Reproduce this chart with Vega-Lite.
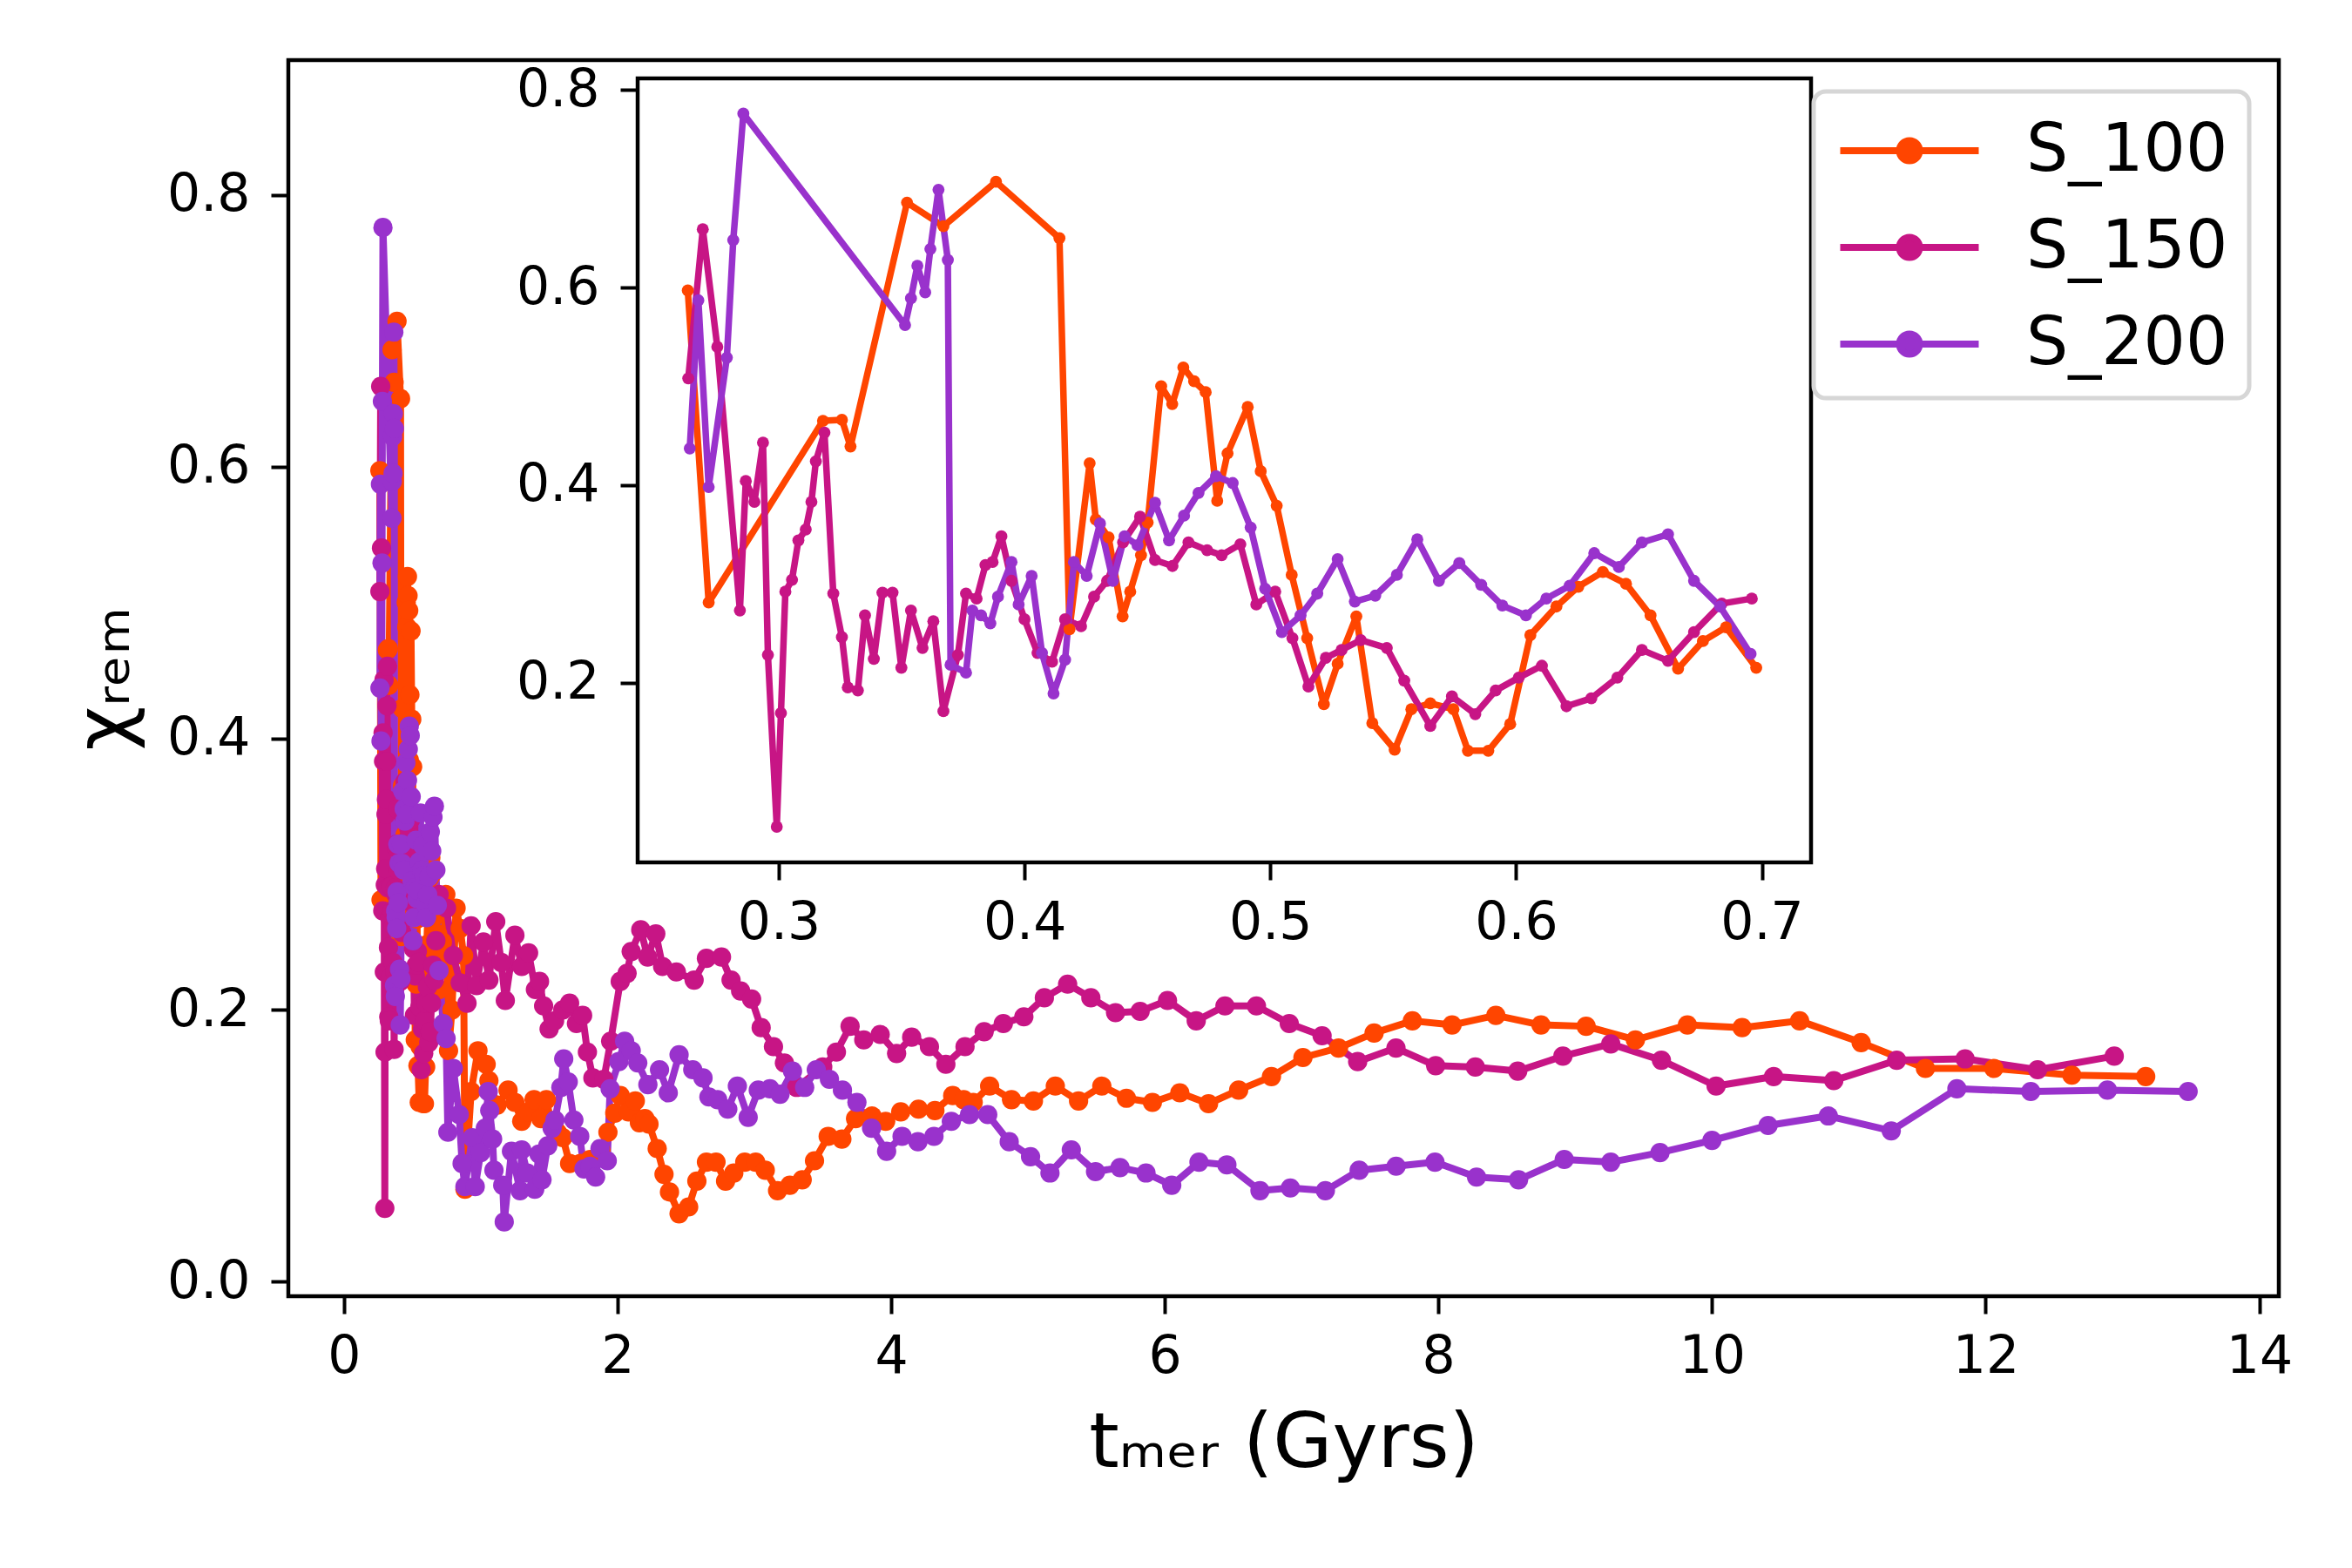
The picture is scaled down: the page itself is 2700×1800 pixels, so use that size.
{
"$schema":"https://vega.github.io/schema/vega-lite/v6.json",
"autosize":{"type":"none"},
"width":2285,"height":1419,
"padding":{"left":331,"top":69,"right":84,"bottom":312},
"background":"white",
"config":{
 "view":{"stroke":"black","strokeWidth":4.5},
 "font":"DejaVu Sans",
 "axis":{"grid":false,"domain":false,"tickColor":"black","tickWidth":4,"tickSize":20,"labelColor":"black","labelFont":"DejaVu Sans","labelFontSize":60,"titleFont":"DejaVu Sans","titleFontWeight":"normal","titleColor":"black","titleFontSize":88}
},
"datasets":{"d":[
{"series":"S_100","t":0.263,"chi":0.597},{"series":"S_100","t":0.2715,"chi":0.281},{"series":"S_100","t":0.318,"chi":0.465},{"series":"S_100","t":0.3257,"chi":0.466},{"series":"S_100","t":0.3292,"chi":0.439},{"series":"S_100","t":0.3522,"chi":0.686},{"series":"S_100","t":0.367,"chi":0.662},{"series":"S_100","t":0.3884,"chi":0.707},{"series":"S_100","t":0.4142,"chi":0.65},{"series":"S_100","t":0.4183,"chi":0.254},{"series":"S_100","t":0.4265,"chi":0.422},{"series":"S_100","t":0.429,"chi":0.365},{"series":"S_100","t":0.4342,"chi":0.347},{"series":"S_100","t":0.4399,"chi":0.267},{"series":"S_100","t":0.443,"chi":0.292},{"series":"S_100","t":0.4474,"chi":0.329},{"series":"S_100","t":0.4501,"chi":0.362},{"series":"S_100","t":0.4556,"chi":0.5},{"series":"S_100","t":0.4601,"chi":0.482},{"series":"S_100","t":0.4646,"chi":0.519},{"series":"S_100","t":0.469,"chi":0.505},{"series":"S_100","t":0.4737,"chi":0.494},{"series":"S_100","t":0.4784,"chi":0.384},{"series":"S_100","t":0.4826,"chi":0.432},{"series":"S_100","t":0.4908,"chi":0.479},{"series":"S_100","t":0.4961,"chi":0.414},{"series":"S_100","t":0.5026,"chi":0.379},{"series":"S_100","t":0.5087,"chi":0.309},{"series":"S_100","t":0.515,"chi":0.245},{"series":"S_100","t":0.5218,"chi":0.178},{"series":"S_100","t":0.5274,"chi":0.219},{"series":"S_100","t":0.535,"chi":0.267},{"series":"S_100","t":0.5415,"chi":0.159},{"series":"S_100","t":0.5506,"chi":0.132},{"series":"S_100","t":0.5574,"chi":0.173},{"series":"S_100","t":0.5651,"chi":0.179},{"series":"S_100","t":0.5745,"chi":0.173},{"series":"S_100","t":0.5804,"chi":0.131},{"series":"S_100","t":0.5887,"chi":0.131},{"series":"S_100","t":0.5976,"chi":0.158},{"series":"S_100","t":0.6058,"chi":0.248},{"series":"S_100","t":0.6164,"chi":0.277},{"series":"S_100","t":0.6253,"chi":0.297},{"series":"S_100","t":0.6353,"chi":0.312},{"series":"S_100","t":0.6447,"chi":0.3},{"series":"S_100","t":0.6547,"chi":0.268},{"series":"S_100","t":0.6659,"chi":0.214},{"series":"S_100","t":0.676,"chi":0.242},{"series":"S_100","t":0.6854,"chi":0.256},{"series":"S_100","t":0.6977,"chi":0.215},
{"series":"S_100","t":0.72,"chi":0.25},{"series":"S_100","t":0.745,"chi":0.285},{"series":"S_100","t":0.765,"chi":0.17},{"series":"S_100","t":0.79,"chi":0.2},{"series":"S_100","t":0.82,"chi":0.275},{"series":"S_100","t":0.85,"chi":0.26},{"series":"S_100","t":0.875,"chi":0.24},{"series":"S_100","t":0.885,"chi":0.068},{"series":"S_100","t":0.93,"chi":0.14},{"series":"S_100","t":0.98,"chi":0.17},{"series":"S_100","t":1.04,"chi":0.16},{"series":"S_100","t":1.06,"chi":0.148},{"series":"S_100","t":1.12,"chi":0.13},{"series":"S_100","t":1.2,"chi":0.141},{"series":"S_100","t":1.25,"chi":0.132},{"series":"S_100","t":1.3,"chi":0.118},{"series":"S_100","t":1.35,"chi":0.125},{"series":"S_100","t":1.39,"chi":0.134},{"series":"S_100","t":1.44,"chi":0.12},{"series":"S_100","t":1.48,"chi":0.134},{"series":"S_100","t":1.52,"chi":0.115},{"series":"S_100","t":1.56,"chi":0.11},{"series":"S_100","t":1.6,"chi":0.106},{"series":"S_100","t":1.65,"chi":0.087},{"series":"S_100","t":1.73,"chi":0.087},{"series":"S_100","t":1.8,"chi":0.09},{"series":"S_100","t":1.88,"chi":0.096},{"series":"S_100","t":1.93,"chi":0.11},{"series":"S_100","t":1.98,"chi":0.124},{"series":"S_100","t":2.02,"chi":0.137},{"series":"S_100","t":2.08,"chi":0.125},{"series":"S_100","t":2.13,"chi":0.133},{"series":"S_100","t":2.16,"chi":0.117},{"series":"S_100","t":2.2,"chi":0.12},{"series":"S_100","t":2.23,"chi":0.116},{"series":"S_100","t":2.29,"chi":0.098},{"series":"S_100","t":2.34,"chi":0.079},{"series":"S_100","t":2.38,"chi":0.066},{"series":"S_100","t":2.45,"chi":0.05},{"series":"S_100","t":2.52,"chi":0.055},{"series":"S_100","t":2.58,"chi":0.074},{"series":"S_100","t":2.65,"chi":0.088},{"series":"S_100","t":2.72,"chi":0.088},{"series":"S_100","t":2.79,"chi":0.074},{"series":"S_100","t":2.85,"chi":0.08},{"series":"S_100","t":2.93,"chi":0.088},{"series":"S_100","t":3.01,"chi":0.088},{"series":"S_100","t":3.08,"chi":0.082},{"series":"S_100","t":3.17,"chi":0.067},{"series":"S_100","t":3.26,"chi":0.071},{"series":"S_100","t":3.35,"chi":0.075},{"series":"S_100","t":3.44,"chi":0.089},{"series":"S_100","t":3.54,"chi":0.107},{"series":"S_100","t":3.64,"chi":0.105},{"series":"S_100","t":3.74,"chi":0.12},{"series":"S_100","t":3.86,"chi":0.122},{"series":"S_100","t":3.96,"chi":0.118},{"series":"S_100","t":4.07,"chi":0.125},{"series":"S_100","t":4.2,"chi":0.127},{"series":"S_100","t":4.32,"chi":0.126},{"series":"S_100","t":4.45,"chi":0.137},{"series":"S_100","t":4.53,"chi":0.134},{"series":"S_100","t":4.6,"chi":0.132},{"series":"S_100","t":4.72,"chi":0.144},{"series":"S_100","t":4.88,"chi":0.134},{"series":"S_100","t":5.04,"chi":0.133},{"series":"S_100","t":5.2,"chi":0.144},{"series":"S_100","t":5.37,"chi":0.133},{"series":"S_100","t":5.54,"chi":0.144},{"series":"S_100","t":5.72,"chi":0.135},{"series":"S_100","t":5.91,"chi":0.132},{"series":"S_100","t":6.11,"chi":0.139},{"series":"S_100","t":6.32,"chi":0.131},{"series":"S_100","t":6.54,"chi":0.141},{"series":"S_100","t":6.78,"chi":0.151},{"series":"S_100","t":7.01,"chi":0.165},{"series":"S_100","t":7.27,"chi":0.172},{"series":"S_100","t":7.53,"chi":0.183},{"series":"S_100","t":7.81,"chi":0.192},{"series":"S_100","t":8.1,"chi":0.189},{"series":"S_100","t":8.42,"chi":0.196},{"series":"S_100","t":8.75,"chi":0.189},{"series":"S_100","t":9.08,"chi":0.188},{"series":"S_100","t":9.44,"chi":0.178},{"series":"S_100","t":9.82,"chi":0.189},{"series":"S_100","t":10.22,"chi":0.187},{"series":"S_100","t":10.64,"chi":0.192},{"series":"S_100","t":11.09,"chi":0.176},{"series":"S_100","t":11.56,"chi":0.157},{"series":"S_100","t":12.06,"chi":0.157},{"series":"S_100","t":12.63,"chi":0.152},{"series":"S_100","t":13.17,"chi":0.151},
{"series":"S_150","t":0.2632,"chi":0.508},{"series":"S_150","t":0.2691,"chi":0.659},{"series":"S_150","t":0.275,"chi":0.54},{"series":"S_150","t":0.2842,"chi":0.273},{"series":"S_150","t":0.2866,"chi":0.404},{"series":"S_150","t":0.2901,"chi":0.383},{"series":"S_150","t":0.2936,"chi":0.443},{"series":"S_150","t":0.2956,"chi":0.228},{"series":"S_150","t":0.2992,"chi":0.054},{"series":"S_150","t":0.3009,"chi":0.169},{"series":"S_150","t":0.3027,"chi":0.292},{"series":"S_150","t":0.3054,"chi":0.304},{"series":"S_150","t":0.308,"chi":0.344},{"series":"S_150","t":0.311,"chi":0.355},{"series":"S_150","t":0.3133,"chi":0.383},{"series":"S_150","t":0.3151,"chi":0.424},{"series":"S_150","t":0.3186,"chi":0.453},{"series":"S_150","t":0.3222,"chi":0.29},{"series":"S_150","t":0.3257,"chi":0.246},{"series":"S_150","t":0.3281,"chi":0.195},{"series":"S_150","t":0.3322,"chi":0.192},{"series":"S_150","t":0.3351,"chi":0.268},{"series":"S_150","t":0.3387,"chi":0.224},{"series":"S_150","t":0.3422,"chi":0.291},{"series":"S_150","t":0.3463,"chi":0.291},{"series":"S_150","t":0.3499,"chi":0.215},{"series":"S_150","t":0.3538,"chi":0.273},{"series":"S_150","t":0.3585,"chi":0.235},{"series":"S_150","t":0.3629,"chi":0.262},{"series":"S_150","t":0.367,"chi":0.171},{"series":"S_150","t":0.3729,"chi":0.228},{"series":"S_150","t":0.3762,"chi":0.29},{"series":"S_150","t":0.3805,"chi":0.285},{"series":"S_150","t":0.3841,"chi":0.319},{"series":"S_150","t":0.387,"chi":0.322},{"series":"S_150","t":0.3906,"chi":0.348},{"series":"S_150","t":0.3947,"chi":0.303},{"series":"S_150","t":0.4,"chi":0.264},{"series":"S_150","t":0.4053,"chi":0.23},{"series":"S_150","t":0.4112,"chi":0.221},{"series":"S_150","t":0.4165,"chi":0.264},{"series":"S_150","t":0.423,"chi":0.257},{"series":"S_150","t":0.4283,"chi":0.287},{"series":"S_150","t":0.4336,"chi":0.303},{"series":"S_150","t":0.4401,"chi":0.342},{"series":"S_150","t":0.447,"chi":0.368},{"series":"S_150","t":0.4531,"chi":0.324},{"series":"S_150","t":0.4602,"chi":0.318},{"series":"S_150","t":0.4667,"chi":0.342},{"series":"S_150","t":0.4743,"chi":0.334},{"series":"S_150","t":0.4802,"chi":0.329},{"series":"S_150","t":0.4878,"chi":0.34},{"series":"S_150","t":0.4943,"chi":0.279},{"series":"S_150","t":0.502,"chi":0.292},{"series":"S_150","t":0.509,"chi":0.245},{"series":"S_150","t":0.5155,"chi":0.196},{"series":"S_150","t":0.5226,"chi":0.225},{"series":"S_150","t":0.529,"chi":0.233},{"series":"S_150","t":0.5368,"chi":0.243},{"series":"S_150","t":0.5474,"chi":0.235},{"series":"S_150","t":0.5545,"chi":0.202},{"series":"S_150","t":0.5651,"chi":0.156},{"series":"S_150","t":0.5739,"chi":0.186},{"series":"S_150","t":0.5834,"chi":0.168},{"series":"S_150","t":0.5917,"chi":0.192},{"series":"S_150","t":0.6011,"chi":0.205},{"series":"S_150","t":0.6105,"chi":0.217},{"series":"S_150","t":0.6205,"chi":0.176},{"series":"S_150","t":0.6306,"chi":0.184},{"series":"S_150","t":0.6412,"chi":0.205},{"series":"S_150","t":0.6512,"chi":0.233},{"series":"S_150","t":0.6618,"chi":0.222},{"series":"S_150","t":0.6724,"chi":0.251},{"series":"S_150","t":0.6837,"chi":0.28},{"series":"S_150","t":0.6959,"chi":0.285},
{"series":"S_150","t":0.75,"chi":0.275},{"series":"S_150","t":0.8,"chi":0.24},{"series":"S_150","t":0.85,"chi":0.22},{"series":"S_150","t":0.9,"chi":0.205},{"series":"S_150","t":0.93,"chi":0.262},{"series":"S_150","t":0.97,"chi":0.218},{"series":"S_150","t":1.02,"chi":0.25},{"series":"S_150","t":1.06,"chi":0.222},{"series":"S_150","t":1.11,"chi":0.265},{"series":"S_150","t":1.15,"chi":0.235},{"series":"S_150","t":1.18,"chi":0.207},{"series":"S_150","t":1.25,"chi":0.255},{"series":"S_150","t":1.3,"chi":0.232},{"series":"S_150","t":1.35,"chi":0.242},{"series":"S_150","t":1.4,"chi":0.215},{"series":"S_150","t":1.43,"chi":0.221},{"series":"S_150","t":1.46,"chi":0.203},{"series":"S_150","t":1.5,"chi":0.186},{"series":"S_150","t":1.54,"chi":0.192},{"series":"S_150","t":1.6,"chi":0.2},{"series":"S_150","t":1.65,"chi":0.205},{"series":"S_150","t":1.7,"chi":0.19},{"series":"S_150","t":1.745,"chi":0.196},{"series":"S_150","t":1.78,"chi":0.169},{"series":"S_150","t":1.82,"chi":0.15},{"series":"S_150","t":1.9,"chi":0.149},{"series":"S_150","t":1.95,"chi":0.177},{"series":"S_150","t":2.02,"chi":0.221},{"series":"S_150","t":2.07,"chi":0.227},{"series":"S_150","t":2.1,"chi":0.243},{"series":"S_150","t":2.17,"chi":0.259},{"series":"S_150","t":2.22,"chi":0.239},{"series":"S_150","t":2.28,"chi":0.256},{"series":"S_150","t":2.33,"chi":0.232},{"series":"S_150","t":2.43,"chi":0.228},{"series":"S_150","t":2.56,"chi":0.222},{"series":"S_150","t":2.65,"chi":0.238},{"series":"S_150","t":2.76,"chi":0.239},{"series":"S_150","t":2.83,"chi":0.222},{"series":"S_150","t":2.9,"chi":0.214},{"series":"S_150","t":2.98,"chi":0.208},{"series":"S_150","t":3.05,"chi":0.187},{"series":"S_150","t":3.14,"chi":0.173},{"series":"S_150","t":3.22,"chi":0.161},{"series":"S_150","t":3.31,"chi":0.143},{"series":"S_150","t":3.5,"chi":0.158},{"series":"S_150","t":3.6,"chi":0.169},{"series":"S_150","t":3.7,"chi":0.188},{"series":"S_150","t":3.8,"chi":0.178},{"series":"S_150","t":3.92,"chi":0.182},{"series":"S_150","t":4.04,"chi":0.168},{"series":"S_150","t":4.15,"chi":0.18},{"series":"S_150","t":4.28,"chi":0.173},{"series":"S_150","t":4.4,"chi":0.16},{"series":"S_150","t":4.54,"chi":0.173},{"series":"S_150","t":4.68,"chi":0.184},{"series":"S_150","t":4.82,"chi":0.19},{"series":"S_150","t":4.97,"chi":0.195},{"series":"S_150","t":5.12,"chi":0.209},{"series":"S_150","t":5.29,"chi":0.219},{"series":"S_150","t":5.46,"chi":0.209},{"series":"S_150","t":5.64,"chi":0.198},{"series":"S_150","t":5.82,"chi":0.199},{"series":"S_150","t":6.02,"chi":0.207},{"series":"S_150","t":6.23,"chi":0.192},{"series":"S_150","t":6.44,"chi":0.203},{"series":"S_150","t":6.67,"chi":0.203},{"series":"S_150","t":6.91,"chi":0.19},{"series":"S_150","t":7.15,"chi":0.181},{"series":"S_150","t":7.41,"chi":0.162},{"series":"S_150","t":7.69,"chi":0.172},{"series":"S_150","t":7.98,"chi":0.159},{"series":"S_150","t":8.27,"chi":0.158},{"series":"S_150","t":8.58,"chi":0.155},{"series":"S_150","t":8.91,"chi":0.166},{"series":"S_150","t":9.26,"chi":0.175},{"series":"S_150","t":9.63,"chi":0.163},{"series":"S_150","t":10.03,"chi":0.144},{"series":"S_150","t":10.45,"chi":0.151},{"series":"S_150","t":10.89,"chi":0.148},{"series":"S_150","t":11.35,"chi":0.163},{"series":"S_150","t":11.85,"chi":0.164},{"series":"S_150","t":12.38,"chi":0.156},{"series":"S_150","t":12.94,"chi":0.166},
{"series":"S_200","t":0.2638,"chi":0.437},{"series":"S_200","t":0.2673,"chi":0.587},{"series":"S_200","t":0.2715,"chi":0.398},{"series":"S_200","t":0.2789,"chi":0.529},{"series":"S_200","t":0.2815,"chi":0.648},{"series":"S_200","t":0.2856,"chi":0.776},{"series":"S_200","t":0.3514,"chi":0.562},{"series":"S_200","t":0.3538,"chi":0.589},{"series":"S_200","t":0.3564,"chi":0.622},{"series":"S_200","t":0.3596,"chi":0.595},{"series":"S_200","t":0.3617,"chi":0.639},{"series":"S_200","t":0.365,"chi":0.699},{"series":"S_200","t":0.3688,"chi":0.628},{"series":"S_200","t":0.3699,"chi":0.218},{"series":"S_200","t":0.3762,"chi":0.21},{"series":"S_200","t":0.3788,"chi":0.273},{"series":"S_200","t":0.3823,"chi":0.268},{"series":"S_200","t":0.3861,"chi":0.26},{"series":"S_200","t":0.3892,"chi":0.287},{"series":"S_200","t":0.3947,"chi":0.322},{"series":"S_200","t":0.3976,"chi":0.279},{"series":"S_200","t":0.4029,"chi":0.308},{"series":"S_200","t":0.4071,"chi":0.23},{"series":"S_200","t":0.4118,"chi":0.189},{"series":"S_200","t":0.4165,"chi":0.223},{"series":"S_200","t":0.4201,"chi":0.322},{"series":"S_200","t":0.4253,"chi":0.308},{"series":"S_200","t":0.4307,"chi":0.361},{"series":"S_200","t":0.436,"chi":0.303},{"series":"S_200","t":0.4407,"chi":0.348},{"series":"S_200","t":0.446,"chi":0.339},{"series":"S_200","t":0.4531,"chi":0.382},{"series":"S_200","t":0.4588,"chi":0.344},{"series":"S_200","t":0.4649,"chi":0.369},{"series":"S_200","t":0.4708,"chi":0.392},{"series":"S_200","t":0.4779,"chi":0.409},{"series":"S_200","t":0.4847,"chi":0.402},{"series":"S_200","t":0.492,"chi":0.357},{"series":"S_200","t":0.4979,"chi":0.295},{"series":"S_200","t":0.5047,"chi":0.251},{"series":"S_200","t":0.5123,"chi":0.268},{"series":"S_200","t":0.5191,"chi":0.29},{"series":"S_200","t":0.5274,"chi":0.325},{"series":"S_200","t":0.5344,"chi":0.282},{"series":"S_200","t":0.5427,"chi":0.288},{"series":"S_200","t":0.5515,"chi":0.309},{"series":"S_200","t":0.5598,"chi":0.345},{"series":"S_200","t":0.5686,"chi":0.303},{"series":"S_200","t":0.5769,"chi":0.321},{"series":"S_200","t":0.5858,"chi":0.299},{"series":"S_200","t":0.5944,"chi":0.278},{"series":"S_200","t":0.604,"chi":0.268},{"series":"S_200","t":0.6123,"chi":0.285},{"series":"S_200","t":0.6218,"chi":0.298},{"series":"S_200","t":0.6318,"chi":0.331},{"series":"S_200","t":0.6418,"chi":0.317},{"series":"S_200","t":0.6512,"chi":0.342},{"series":"S_200","t":0.6618,"chi":0.35},{"series":"S_200","t":0.6724,"chi":0.303},{"series":"S_200","t":0.683,"chi":0.277},{"series":"S_200","t":0.6954,"chi":0.229},
{"series":"S_200","t":0.726,"chi":0.19},{"series":"S_200","t":0.747,"chi":0.179},{"series":"S_200","t":0.76,"chi":0.11},{"series":"S_200","t":0.8,"chi":0.157},{"series":"S_200","t":0.843,"chi":0.123},{"series":"S_200","t":0.864,"chi":0.087},{"series":"S_200","t":0.885,"chi":0.07},{"series":"S_200","t":0.938,"chi":0.106},{"series":"S_200","t":0.96,"chi":0.07},{"series":"S_200","t":1.0,"chi":0.095},{"series":"S_200","t":1.034,"chi":0.113},{"series":"S_200","t":1.055,"chi":0.14},{"series":"S_200","t":1.066,"chi":0.126},{"series":"S_200","t":1.087,"chi":0.105},{"series":"S_200","t":1.097,"chi":0.082},{"series":"S_200","t":1.161,"chi":0.071},{"series":"S_200","t":1.172,"chi":0.044},{"series":"S_200","t":1.225,"chi":0.096},{"series":"S_200","t":1.288,"chi":0.067},{"series":"S_200","t":1.3,"chi":0.097},{"series":"S_200","t":1.34,"chi":0.08},{"series":"S_200","t":1.395,"chi":0.068},{"series":"S_200","t":1.426,"chi":0.094},{"series":"S_200","t":1.448,"chi":0.075},{"series":"S_200","t":1.49,"chi":0.1},{"series":"S_200","t":1.522,"chi":0.113},{"series":"S_200","t":1.543,"chi":0.119},{"series":"S_200","t":1.586,"chi":0.143},{"series":"S_200","t":1.607,"chi":0.164},{"series":"S_200","t":1.64,"chi":0.147},{"series":"S_200","t":1.681,"chi":0.119},{"series":"S_200","t":1.724,"chi":0.107},{"series":"S_200","t":1.755,"chi":0.083},{"series":"S_200","t":1.8,"chi":0.085},{"series":"S_200","t":1.84,"chi":0.077},{"series":"S_200","t":1.872,"chi":0.098},{"series":"S_200","t":1.925,"chi":0.089},{"series":"S_200","t":1.946,"chi":0.142},{"series":"S_200","t":2.01,"chi":0.162},{"series":"S_200","t":2.052,"chi":0.177},{"series":"S_200","t":2.1,"chi":0.17},{"series":"S_200","t":2.148,"chi":0.161},{"series":"S_200","t":2.222,"chi":0.145},{"series":"S_200","t":2.307,"chi":0.156},{"series":"S_200","t":2.371,"chi":0.139},{"series":"S_200","t":2.45,"chi":0.167},{"series":"S_200","t":2.55,"chi":0.156},{"series":"S_200","t":2.625,"chi":0.15},{"series":"S_200","t":2.668,"chi":0.136},{"series":"S_200","t":2.732,"chi":0.134},{"series":"S_200","t":2.806,"chi":0.127},{"series":"S_200","t":2.876,"chi":0.144},{"series":"S_200","t":2.955,"chi":0.121},{"series":"S_200","t":3.029,"chi":0.141},{"series":"S_200","t":3.114,"chi":0.142},{"series":"S_200","t":3.188,"chi":0.138},{"series":"S_200","t":3.279,"chi":0.155},{"series":"S_200","t":3.368,"chi":0.143},{"series":"S_200","t":3.453,"chi":0.156},{"series":"S_200","t":3.549,"chi":0.149},{"series":"S_200","t":3.644,"chi":0.141},{"series":"S_200","t":3.75,"chi":0.132},{"series":"S_200","t":3.857,"chi":0.113},{"series":"S_200","t":3.967,"chi":0.096},{"series":"S_200","t":4.08,"chi":0.107},{"series":"S_200","t":4.196,"chi":0.103},{"series":"S_200","t":4.313,"chi":0.107},{"series":"S_200","t":4.44,"chi":0.118},{"series":"S_200","t":4.573,"chi":0.123},{"series":"S_200","t":4.706,"chi":0.123},{"series":"S_200","t":4.863,"chi":0.103},{"series":"S_200","t":5.019,"chi":0.092},{"series":"S_200","t":5.161,"chi":0.08},{"series":"S_200","t":5.317,"chi":0.097},{"series":"S_200","t":5.494,"chi":0.081},{"series":"S_200","t":5.673,"chi":0.084},{"series":"S_200","t":5.863,"chi":0.08},{"series":"S_200","t":6.051,"chi":0.071},{"series":"S_200","t":6.25,"chi":0.088},{"series":"S_200","t":6.454,"chi":0.086},{"series":"S_200","t":6.696,"chi":0.067},{"series":"S_200","t":6.918,"chi":0.069},{"series":"S_200","t":7.174,"chi":0.067},{"series":"S_200","t":7.421,"chi":0.082},{"series":"S_200","t":7.691,"chi":0.085},{"series":"S_200","t":7.975,"chi":0.088},{"series":"S_200","t":8.279,"chi":0.077},{"series":"S_200","t":8.586,"chi":0.075},{"series":"S_200","t":8.92,"chi":0.09},{"series":"S_200","t":9.26,"chi":0.088},{"series":"S_200","t":9.62,"chi":0.095},{"series":"S_200","t":10.0,"chi":0.104},{"series":"S_200","t":10.41,"chi":0.115},{"series":"S_200","t":10.85,"chi":0.122},{"series":"S_200","t":11.31,"chi":0.111},{"series":"S_200","t":11.79,"chi":0.142},{"series":"S_200","t":12.33,"chi":0.14},{"series":"S_200","t":12.89,"chi":0.141},{"series":"S_200","t":13.48,"chi":0.14}
]},
"layer":[
 {
  "data":{"name":"d"},
  "mark":{"type":"line","strokeWidth":8,"strokeJoin":"round","point":{"filled":true,"size":490,"opacity":1}},
  "encoding":{
   "x":{"field":"t","type":"quantitative","scale":{"domain":[-0.406,14.143],"nice":false,"zero":false},
        "axis":{"orient":"bottom","values":[0,2,4,6,8,10,12,14],"format":"d","title":"tₘₑᵣ (Gyrs)","labelPadding":20,"titlePadding":26}},
   "y":{"field":"chi","type":"quantitative","scale":{"domain":[-0.0107,0.8992],"nice":false,"zero":false},
        "axis":{"orient":"left","values":[0,0.2,0.4,0.6,0.8],"format":".1f","title":"χᵣₑₘ","labelPadding":24,"titlePadding":26}},
   "color":{"field":"series","type":"nominal",
     "scale":{"domain":["S_100","S_150","S_200"],"range":["#FF4500","#C71585","#9932CC"]},
     "legend":{"title":null,"orient":"none","legendX":1751,"legendY":36,
       "symbolType":"M-2,0H2M0.29,0A0.29,0.29,0,1,1,-0.29,0A0.29,0.29,0,1,1,0.29,0Z",
       "symbolSize":6320,"symbolStrokeWidth":8,"symbolOffset":42,
       "labelFontSize":76,"labelFont":"DejaVu Sans","labelColor":"black","labelOffset":90,"labelLimit":600,
       "rowPadding":29,"padding":24,"strokeColor":"#d6d6d6","fillColor":"white","cornerRadius":14,
       "encode":{"legend":{"update":{"strokeWidth":{"value":5}}},
                 "symbols":{"update":{"fill":{"scale":"color","field":"value"},"stroke":{"scale":"color","field":"value"},"opacity":{"value":1}}}}}}
  }
 },
 {
  "data":{"values":[{"k":1}]},
  "mark":{"type":"rect","fill":"white","stroke":"black","strokeWidth":4.5},
  "encoding":{
   "x":{"datum":0.2426,"type":"quantitative","scale":{"domain":[0.2426,0.72],"range":[401,1748],"nice":false,"zero":false},"axis":null},
   "x2":{"datum":0.72},
   "y":{"datum":0.0179,"type":"quantitative","scale":{"domain":[0.0179,0.8117],"range":[921,21],"nice":false,"zero":false},"axis":null},
   "y2":{"datum":0.8117}
  }
 },
 {
  "data":{"name":"d"},
  "transform":[{"filter":"datum.t <= 0.71"}],
  "mark":{"type":"line","strokeWidth":7.5,"strokeJoin":"round","point":{"filled":true,"size":190,"opacity":1}},
  "encoding":{
   "x":{"field":"t","type":"quantitative","scale":{"domain":[0.2426,0.72],"range":[401,1748],"nice":false,"zero":false},
        "axis":{"orient":"bottom","offset":-498,"zindex":1,"values":[0.3,0.4,0.5,0.6,0.7],"format":".1f","title":null,"labelPadding":20}},
   "y":{"field":"chi","type":"quantitative","scale":{"domain":[0.0179,0.8117],"range":[921,21],"nice":false,"zero":false},
        "axis":{"orient":"left","offset":-401,"zindex":1,"values":[0.2,0.4,0.6,0.8],"format":".1f","title":null,"labelPadding":24}},
   "color":{"field":"series","type":"nominal","scale":{"domain":["S_100","S_150","S_200"],"range":["#FF4500","#C71585","#9932CC"]},"legend":null}
  }
 }
],
"resolve":{"scale":{"x":"independent","y":"independent"}}
}
